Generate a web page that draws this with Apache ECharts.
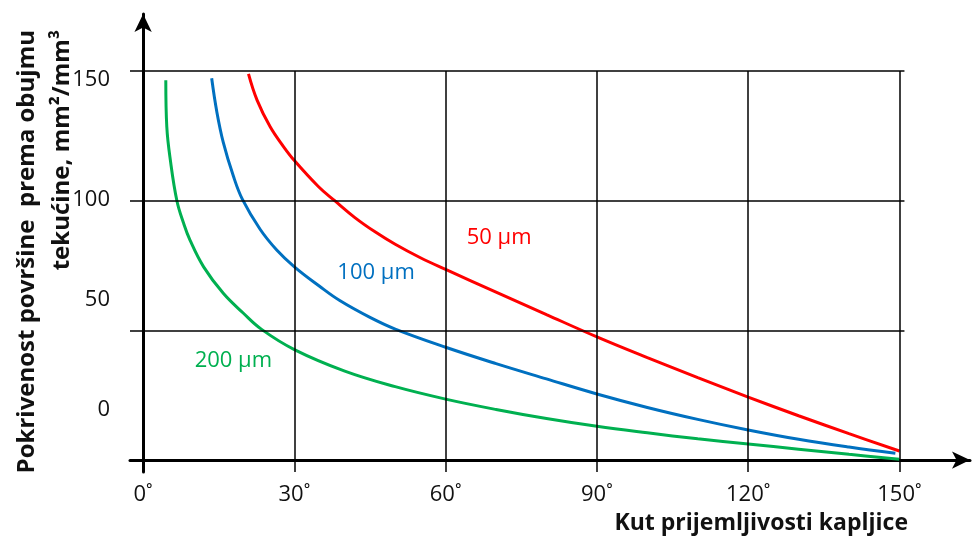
<!DOCTYPE html>
<html>
<head>
<meta charset="utf-8">
<script src="https://cdn.jsdelivr.net/npm/echarts@6/dist/echarts.min.js"></script>
<style>html,body{margin:0;padding:0;background:#fff}#c{width:972px;height:540px}</style>
</head>
<body>
<div id="c"></div>
<script>
// ---- data ----
const angle50 = [20.9, 22.6, 25.2, 27.8, 30, 34.8, 38, 42, 46, 50, 55, 60, 70, 80, 90, 100, 110, 120, 130, 140, 150];
const cov50   = [148.9, 138.8, 128.5, 121, 115.5, 105.4, 100, 93.5, 88, 83.2, 78, 73.5, 64.8, 56.1, 47.5, 39.5, 31.8, 24.3, 17.1, 10.2, 3.5];
const angle100 = [13.6, 14.6, 15.9, 17.9, 19.7, 23.2, 26.5, 30, 35, 39, 45, 50, 60, 70, 80, 90, 100, 110, 120, 130, 140, 149.2];
const cov100   = [147.2, 134.5, 122.5, 109.5, 100.5, 89, 81, 74.5, 67, 61.5, 55, 50.5, 43.5, 37.2, 31.3, 25.5, 20.3, 15.7, 11.6, 8, 5, 2.6];
const angle200 = [4.5, 4.7, 5.4, 6.7, 8, 9.3, 12, 15.9, 19.9, 23.5, 30, 40, 50, 60, 70, 80, 90, 100, 110, 120, 130, 140, 150];
const cov200   = [146.5, 128.5, 115.7, 100, 91.5, 84.8, 74.5, 64.3, 56.6, 50.4, 42.6, 34.3, 28.3, 23.5, 19.5, 16, 13, 10.5, 8.2, 6.2, 4.2, 2.2, 0.3];
const seriesNames = ['50 µm', '100 µm', '200 µm'];
const xTickValues = [0, 30, 60, 90, 120, 150];
const xTickLabels = ['0˚', '30˚', '60˚', '90˚', '120˚', '150˚'];
const yTickLabels = ['0', '50', '100', '150'];
const gridX = [30, 60, 90, 120, 150];
const gridY = [50, 100, 150];
const yTitle = 'Pokrivenost površine  prema obujmu\ntekućine, mm²/mm³';
const xTitle = 'Kut prijemljivosti kapljice';

const zip = (a, b) => a.map((v, i) => [v, b[i]]);
const colors = ['#ff0000', '#0070c0', '#00b050'];
const FONT = "'Open Sans', sans-serif";

const xMin = -2.6, xMax = 164, yMin = -4.6, yMax = 172;
// label anchor values (the reference prints its y labels off the gridlines)
const yLabelAnchors = [19.3, 61.7, 100.3, 146.5];
const labelCoords = [[70.6, 85.6], [46.2, 72.1], [17.9, 38.2]];

const gridLines = [];
gridX.forEach(x => gridLines.push([{coord: [x, yMin]}, {coord: [x, 150]}]));
gridY.forEach(y => gridLines.push([{coord: [xMin, y]}, {coord: [151, y]}]));

const dataSets = [zip(angle50, cov50), zip(angle100, cov100), zip(angle200, cov200)];

const chart = echarts.init(document.getElementById('c'));
chart.setOption({
  animation: false,
  backgroundColor: '#fff',
  grid: {left: 130, right: 2, top: 14, bottom: 68, containLabel: false, outerBoundsMode: 'none'},
  xAxis: {
    type: 'value', min: xMin, max: xMax,
    axisLine: {onZero: true, lineStyle: {color: '#000', width: 3}, symbol: ['none', 'arrow'], symbolSize: [13, 18]},
    axisTick: {show: false},
    splitLine: {show: false},
    axisLabel: {
      customValues: xTickValues,
      formatter: (v) => xTickLabels[xTickValues.indexOf(Math.round(v))] ?? '',
      color: '#111', fontFamily: FONT, fontSize: 22, margin: 12
    }
  },
  yAxis: {
    type: 'value', min: yMin, max: yMax,
    axisLine: {onZero: true, lineStyle: {color: '#000', width: 3}, symbol: ['none', 'arrow'], symbolSize: [13, 18]},
    axisTick: {show: false},
    splitLine: {show: false},
    axisLabel: {
      customValues: yLabelAnchors,
      formatter: (v) => yTickLabels[yLabelAnchors.indexOf(v)] ?? '',
      color: '#111', fontFamily: FONT, fontSize: 22, margin: 20
    }
  },
  graphic: [
    {type: 'text', x: 45, y: 30, rotation: Math.PI / 2, silent: true,
     style: {text: yTitle, font: "bold 24px 'Open Sans', sans-serif", fill: '#111', align: 'right', verticalAlign: 'middle', lineHeight: 35}},
    {type: 'text', x: 908, y: 523, silent: true,
     style: {text: xTitle, font: "bold 23px 'Open Sans', sans-serif", fill: '#111', align: 'right', verticalAlign: 'middle'}}
  ],
  series: [
    {type: 'line', name: 'grid', data: [], silent: true, z: 1,
     markLine: {silent: true, symbol: 'none', label: {show: false},
       lineStyle: {color: '#000', width: 1.5, type: 'solid'}, emphasis: {disabled: true}, data: gridLines}}
  ].concat(dataSets.map((d, i) => ({
    type: 'line', name: seriesNames[i], data: d, z: 3,
    showSymbol: false, symbol: 'none', smooth: 0.4,
    lineStyle: {color: colors[i], width: 3}, itemStyle: {color: colors[i]},
    markPoint: {symbol: 'circle', symbolSize: 1, itemStyle: {color: 'rgba(0,0,0,0)'},
      label: {show: true, position: 'inside', formatter: seriesNames[i], color: colors[i], fontFamily: FONT, fontSize: 22},
      data: [{coord: labelCoords[i]}]}
  })))
});
</script>
</body>
</html>
